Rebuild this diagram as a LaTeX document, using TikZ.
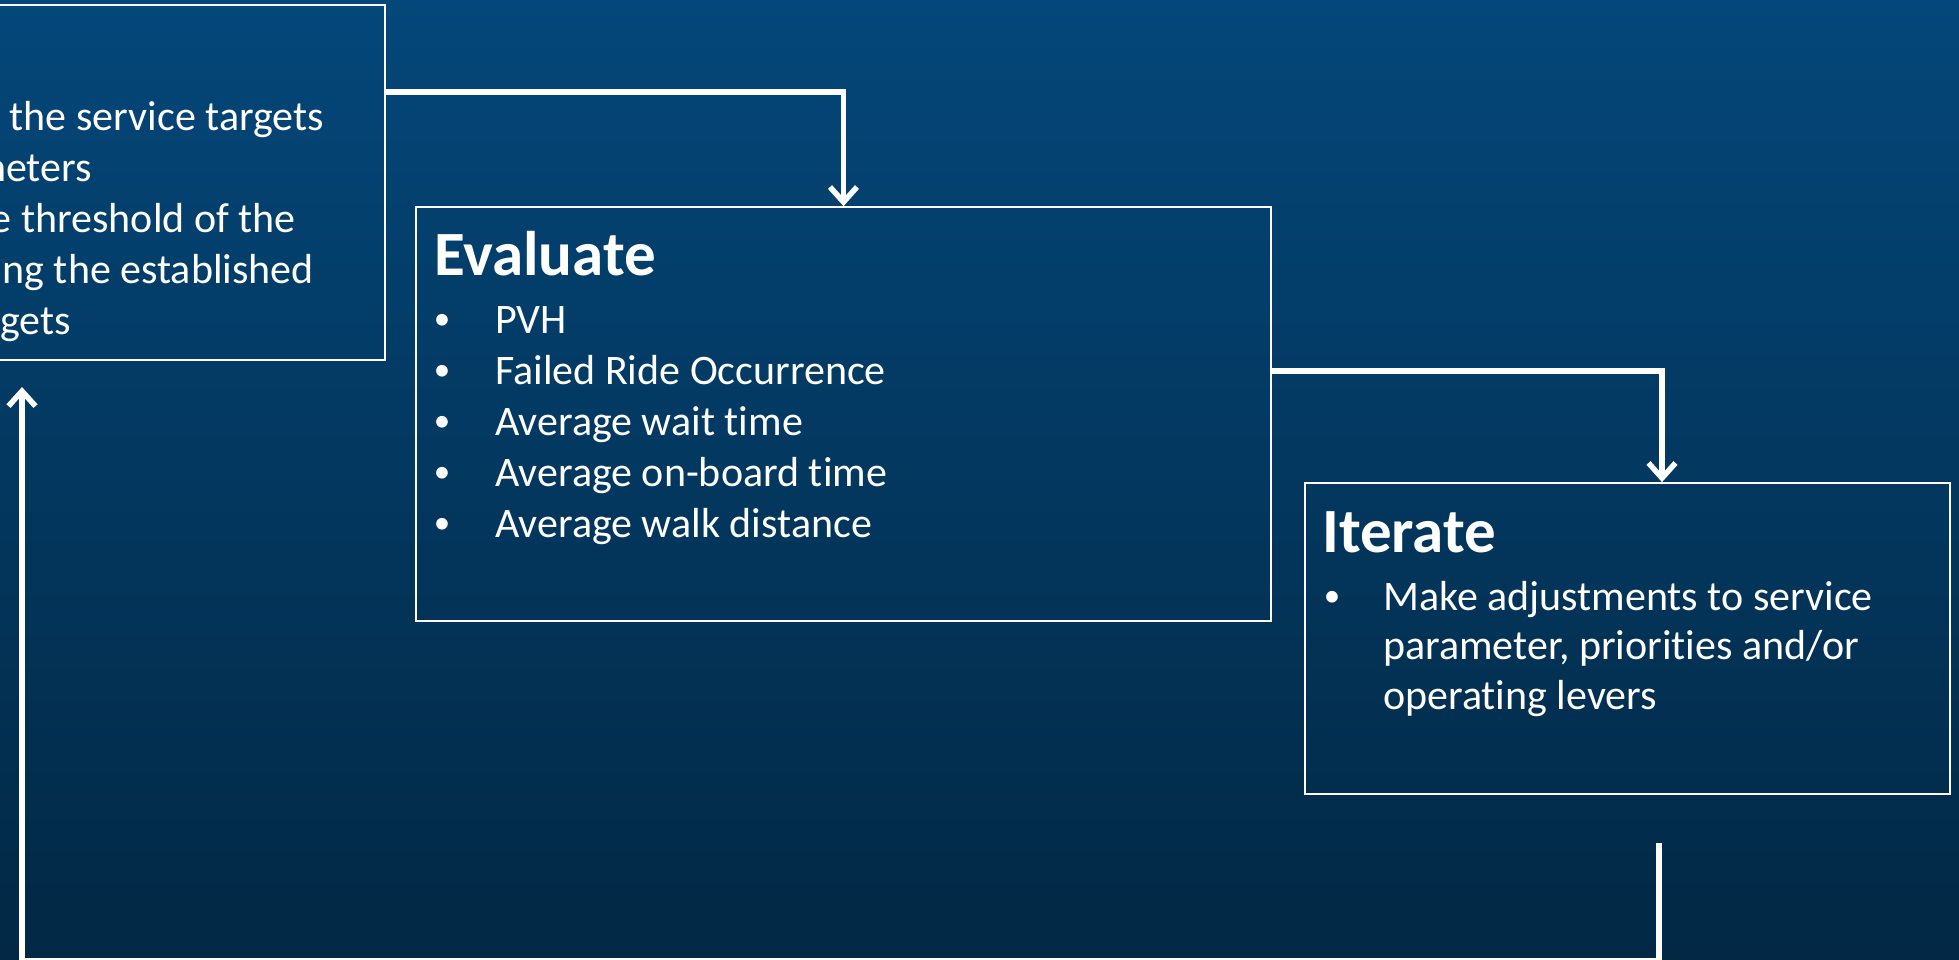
\documentclass[tikz,border=0pt]{standalone}
\usepackage{fontspec}
\setmainfont{Carlito}[Ligatures=NoCommon]
\usetikzlibrary{arrows.meta}
\definecolor{bgtop}{RGB}{4,71,122}
\definecolor{bgbot}{RGB}{2,40,68}
\tikzset{
  boxnode/.style={draw=white, line width=1.8pt, rectangle, inner sep=0pt, fill=none},
  conn/.style={draw=white, line width=5.5pt},
  connarrow/.style={conn, -{Straight Barb[length=15pt,width=27pt]}},
  body/.style={text=white, inner sep=0pt, font=\fontsize{42}{51}\selectfont},
  bul/.style={text=white, inner sep=0pt, font=\fontsize{33}{40}\selectfont},
  head/.style={text=white, inner sep=0pt, font=\fontsize{63}{75}\selectfont\bfseries},
}
\begin{document}
\begin{tikzpicture}[x=1pt,y=-1pt]
\shade[top color=bgtop, bottom color=bgbot] (0,0) rectangle (1959,959);
\useasboundingbox (0,0) rectangle (1959,959);
\clip (0,0) rectangle (1959,959);

% boxes
\node[boxnode, minimum width=395pt, minimum height=355pt] (define) at (187.5,182.5) {};
\node[boxnode, minimum width=855pt, minimum height=414pt] (evaluate) at (843.5,414) {};
\node[boxnode, minimum width=645pt, minimum height=311pt] (iterate) at (1627.5,638.5) {};

% left box text (cut off at the page edge as in the reference)
\node[body, anchor=base east] (d1) at (324,130) {the service targets};
\node[body, anchor=base east] (d2) at (92,181) {neters};
\node[body, anchor=base east] (d3) at (296,232) {e threshold of the};
\node[body, anchor=base east] (d4) at (314,283) {ng the established};
\node[body, anchor=base east] (d5) at (71,334) {gets};

% evaluate text
\node[head, anchor=base west] (eh) at (434,275) {Evaluate};
\node[bul, anchor=base] (eb1) at (442,329) {•};
\node[body, anchor=base west] (e1) at (495,333) {PVH};
\node[bul, anchor=base] (eb2) at (442,380.2) {•};
\node[body, anchor=base west] (e2) at (495,384.2) {Failed Ride Occurrence};
\node[bul, anchor=base] (eb3) at (442,431.4) {•};
\node[body, anchor=base west] (e3) at (495,435.4) {Average wait time};
\node[bul, anchor=base] (eb4) at (442,482.6) {•};
\node[body, anchor=base west] (e4) at (495,486.6) {Average on-board time};
\node[bul, anchor=base] (eb5) at (442,533.8) {•};
\node[body, anchor=base west] (e5) at (495,537.8) {Average walk distance};

% iterate text
\node[head, anchor=base west] (ih) at (1322,552) {Iterate};
\node[bul, anchor=base] (ib1) at (1332,606) {•};
\node[body, anchor=base west] (i1) at (1383,610) {Make adjustments to service};
\node[body, anchor=base west] (i2) at (1383,659.5) {parameter, priorities and/or};
\node[body, anchor=base west] (i3) at (1383,709) {operating levers};

% connector helper coordinates
\coordinate (c1) at (0,92);
\coordinate (c2) at (0,371);
\coordinate (k2) at (1662,0);
\coordinate (fb) at (1659,843);
\coordinate (fbc) at (22,961);
\coordinate (fbend) at (22,387);

% connectors
\draw[connarrow] (define.east |- c1) -| (evaluate.north);
\draw[connarrow] (evaluate.east |- c2) -| (k2 |- iterate.north);
\draw[connarrow] (fb) |- (fbc) -- (fbend);
\end{tikzpicture}
\end{document}
